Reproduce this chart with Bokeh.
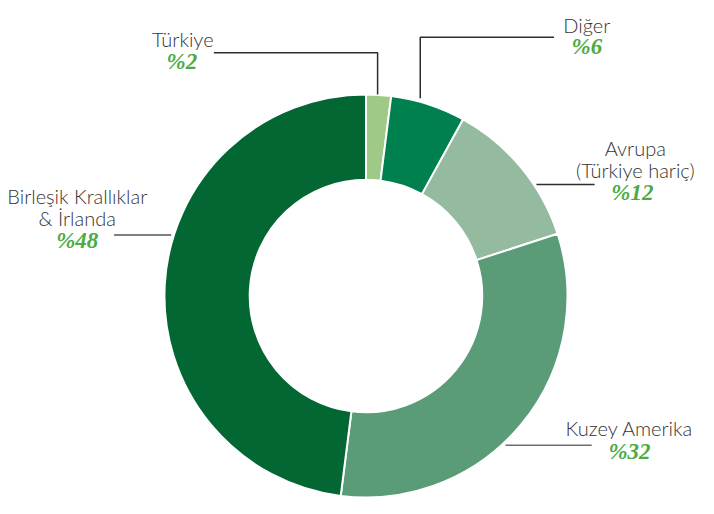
import math
from bokeh.plotting import figure
from bokeh.models import Range1d, ColumnDataSource
from bokeh.core.properties import value
from bokeh.embed import file_html
from bokeh.resources import INLINE

# ---- data ----
categories = ["Türkiye", "Diğer", "Avrupa\n(Türkiye hariç)", "Kuzey Amerika", "Birleşik Krallıklar\n& İrlanda"]
shares = [2, 6, 12, 32, 48]
pct_labels = ["%2", "%6", "%12", "%32", "%48"]
colors = ["#9fc986", "#00804f", "#94bb9f", "#5a9c77", "#036734"]

# ---- layout (reference pixel coordinates, scaled uniformly to fit) ----
W, H = 698, 498
REF_W, REF_H = 714, 514
s = H / REF_H
xspan = W / s
x0 = -(xspan - REF_W) / 2

def Y(py):
    return REF_H - py

cx, cy = 374, 305
r_out, r_in = 208, 120

p = figure(width=W, height=H, output_backend="svg", toolbar_location=None,
           x_range=Range1d(x0, x0 + xspan), y_range=Range1d(0, REF_H),
           min_border=0, outline_line_color=None)
p.axis.visible = False
p.grid.visible = False
p.background_fill_color = "white"

total = float(sum(shares))
starts, ends = [], []
cum = 0.0
for v in shares:
    a0 = cum / total
    cum += v
    a1 = cum / total
    starts.append(math.pi / 2 - 2 * math.pi * a1)
    ends.append(math.pi / 2 - 2 * math.pi * a0)

src = ColumnDataSource(dict(start=starts, end=ends, color=colors))
p.annular_wedge(x=cx, y=Y(cy), inner_radius=r_in, outer_radius=r_out,
                start_angle="start", end_angle="end", fill_color="color",
                line_color="white", line_width=2, source=src)

# leader lines
leaders = [
    ([217, 386, 386], [54, 54, 97], "#2e2e2e"),
    ([568, 430, 430], [38, 38, 101], "#2e2e2e"),
    ([550, 610], [190, 190], "#2e2e2e"),
    ([518, 607], [459, 459], "#6e6e6e"),
    ([114, 173], [242, 242], "#555555"),
]
for xs, ys, c in leaders:
    p.line(xs, [Y(v) for v in ys], line_color=c, line_width=1.5)

# label anchors (center x, baseline of first line, percent baseline)
label_x = [185, 602, 652, 646, 76]
label_y = [40, 25, 152, 441, 202]
pct_x = [184, 602, 649, 646, 76]
pct_y = [63, 47, 198, 465, 248]
line_gap = 23

tx, ty, tt = [], [], []
for i, cat in enumerate(categories):
    for j, line in enumerate(cat.split("\n")):
        tx.append(label_x[i])
        ty.append(Y(label_y[i] + j * line_gap))
        tt.append(line)
p.text(x=tx, y=ty, text=tt, text_font=value("Lato Light"), text_font_size="20px",
       text_color="#333333", text_align="center", text_baseline="alphabetic")

p.text(x=pct_x, y=[Y(v) for v in pct_y], text=pct_labels,
       text_font=value("Liberation Serif"), text_font_style="bold italic",
       text_font_size="23px", text_color="#4cab44", text_align="center",
       text_baseline="alphabetic")

open("out.html", "w").write(file_html(p, INLINE))
